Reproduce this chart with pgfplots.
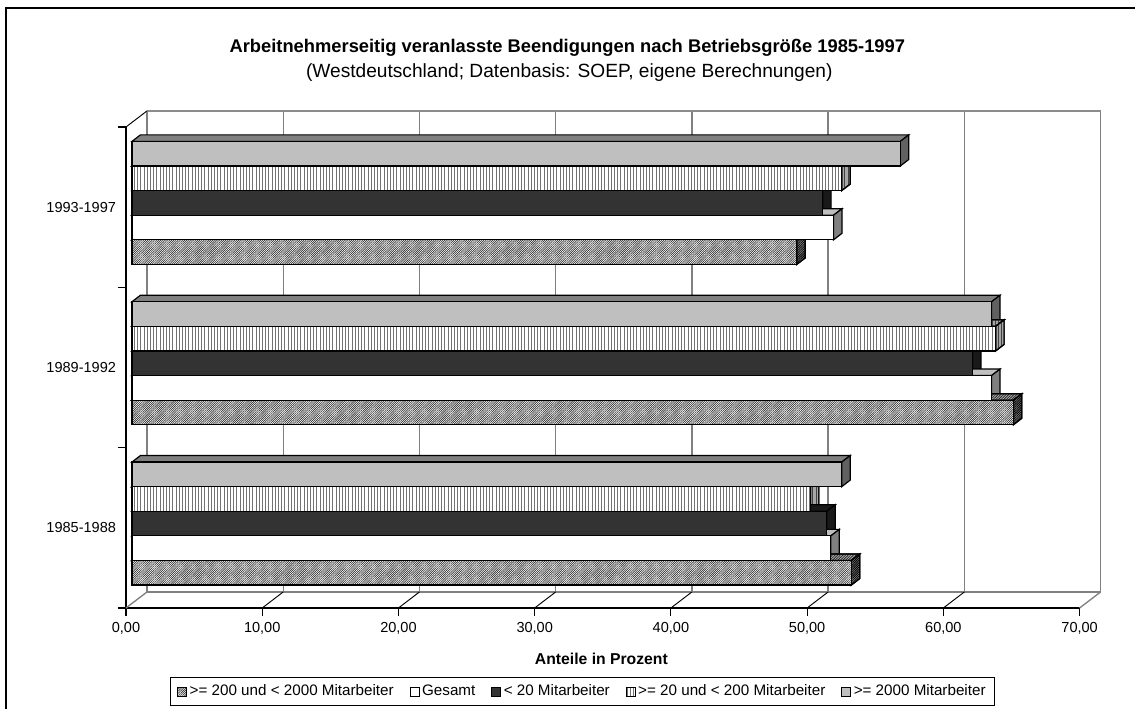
\documentclass[border=0pt]{standalone}
\usepackage{pgfplots}
\pgfplotsset{compat=1.18}
\usepackage{fontspec}
\setmainfont{Liberation Sans}
\usetikzlibrary{patterns,patterns.meta}
\definecolor{wallgray}{HTML}{808080}
\tikzset{
  diagfront/.style={fill=white,postaction={pattern={Lines[angle=45,distance=1.15pt,line width=0.5pt]},pattern color=black!80}},
  diagtop/.style={fill=black!30,postaction={pattern={Lines[angle=45,distance=1.4pt,line width=0.6pt]},pattern color=black!85}},
  diagdark/.style={fill=black!50,postaction={pattern={Lines[angle=45,distance=1.2pt,line width=0.6pt]},pattern color=black}},
  stripefront/.style={fill=white,postaction={pattern={Lines[angle=90,distance=2.4pt,line width=0.55pt]},pattern color=black!55}},
  stripedark/.style={fill=black!35,postaction={pattern={Lines[angle=90,distance=2.4pt,line width=0.7pt]},pattern color=black!75}},
}
\pgfplotsset{frontbar/.style={xbar,bar width=0.1535,xshift=4.5pt,yshift=-0.6pt,draw=black,line width=0.9pt,
  legend image code/.code={\draw[##1,line width=0.7pt] (0pt,-3.3pt) rectangle (6.6pt,3.3pt);}}}
% depth face of one bar: value, y of bar centre, top fill, side fill
\newcommand\depthbar[4]{%
  \pgfmathsetmacro\xa{#1+0.44}\pgfmathsetmacro\xb{#1+0.44+0.62}%
  \pgfmathsetmacro\xo{0.44}\pgfmathsetmacro\xp{0.44+0.62}%
  \pgfmathsetmacro\yt{#2+0.0767}\pgfmathsetmacro\yb{#2-0.0767}%
  \pgfmathsetmacro\yu{#2+0.0767+0.0405}\pgfmathsetmacro\yv{#2-0.0767+0.0405}%
  \edef\tmp{\noexpand\addplot[forget plot,yshift=-0.6pt,draw=black,line width=0.9pt,#3] coordinates {(\xo,\yt)(\xa,\yt)(\xb,\yu)(\xp,\yu)} --cycle;
    \noexpand\addplot[forget plot,yshift=-0.6pt,draw=black,line width=0.9pt,#4] coordinates {(\xa,\yt)(\xa,\yb)(\xb,\yv)(\xb,\yu)} --cycle;}\tmp}
\begin{document}
\begin{tikzpicture}[x=1pt,y=1pt]
\useasboundingbox (-94.5,-75.75) rectangle (756.75,456);
\draw[line width=1.1pt,black] (-90,-75.75) -- (-90,450) -- (756.75,450);
\begin{axis}[
  at={(0,0)},anchor=south west,
  scale only axis,width=715.2pt,height=360.75pt,
  xmin=0,xmax=70,ymin=-0.5,ymax=2.5,
  clip=false,
  axis x line*=bottom,axis y line*=left,
  axis line style={-,line width=0.8pt,black},
  xtick={0,10,...,70},ytick={-0.5,0.5,1.5,2.5},
  minor ytick={},
  extra y ticks={0,1,2},
  extra y tick style={major tick length=0pt,yticklabels={1985-1988,1989-1992,1993-1997},yticklabel style={xshift=-4pt}},
  yticklabels={},
  major tick length=6pt,tick align=outside,
  tick style={line width=0.8pt,black},
  xticklabel style={/pgf/number format/.cd,fixed,fixed zerofill,precision=2,use comma,assume math mode=true},
  ticklabel style={font=\fontsize{10.9}{12}\selectfont},
  xlabel={\textbf{Anteile in Prozent}},
  xlabel style={font=\fontsize{11.8}{13}\selectfont,at={(axis description cs:0.4985,0)},anchor=north,yshift=-30.5pt},
  xticklabel shift=1pt,
  legend style={at={(axis description cs:0.479,-0.1434)},anchor=north,legend columns=5,
    draw=black,line width=0.7pt,font=\fontsize{11.4}{13}\selectfont,
    inner xsep=5pt,inner ysep=3.5pt,
    /tikz/every even column/.append style={column sep=10pt},
    /tikz/every odd column/.append style={column sep=0pt}},
]
% back walls
\draw[wallgray,line width=1pt] (axis cs:1.54,-0.4) -- (axis cs:71.54,-0.4);
\pgfplotsinvokeforeach{0,10,...,70}{\draw[wallgray,line width=1pt] (axis cs:#1+1.54,-0.4) -- (axis cs:#1+1.54,2.6);}
\draw[black!45,line width=1pt] (axis cs:1.54,2.6) -- (axis cs:71.54,2.6);
\draw[wallgray,line width=1pt] (axis cs:0,-0.5) -- (axis cs:1.54,-0.4);
\draw[wallgray,line width=1pt] (axis cs:70,-0.5) -- (axis cs:71.54,-0.4);
\draw[black,line width=0.7pt] (axis cs:0,2.5) -- (axis cs:1.54,2.6);
\pgfplotsinvokeforeach{10,20,...,60}{\draw[black,line width=0.7pt] (axis cs:#1,-0.5) -- (axis cs:#1+1.54,-0.4);}
% depth faces, upper bars first
\depthbar{56.4}{2.3386}{fill=black!50}{fill=black!62}
\depthbar{52.1}{2.1851}{stripedark}{stripedark}
\depthbar{50.7}{2.0316}{fill=black!90}{fill=black!90}
\depthbar{51.5}{1.8781}{fill=black!25}{fill=black!50}
\depthbar{48.8}{1.7246}{diagtop}{diagdark}
\depthbar{63.1}{1.3386}{fill=black!50}{fill=black!62}
\depthbar{63.4}{1.1851}{stripedark}{stripedark}
\depthbar{61.7}{1.0316}{fill=black!90}{fill=black!90}
\depthbar{63.1}{0.8781}{fill=black!25}{fill=black!50}
\depthbar{64.7}{0.7246}{diagtop}{diagdark}
\depthbar{52.1}{0.3386}{fill=black!50}{fill=black!62}
\depthbar{49.8}{0.1851}{stripedark}{stripedark}
\depthbar{51.0}{0.0316}{fill=black!90}{fill=black!90}
\depthbar{51.3}{-0.1219}{fill=black!25}{fill=black!50}
\depthbar{52.8}{-0.2754}{diagtop}{diagdark}
% front faces
\addplot[frontbar,diagfront,bar shift=-0.2754] coordinates {(52.8,0)(64.7,1)(48.8,2)};
\addlegendentry{>= 200 und < 2000 Mitarbeiter}
\addplot[frontbar,fill=white,bar shift=-0.1219] coordinates {(51.3,0)(63.1,1)(51.5,2)};
\addlegendentry{Gesamt}
\addplot[frontbar,fill=black!80,bar shift=0.0316] coordinates {(51.0,0)(61.7,1)(50.7,2)};
\addlegendentry{< 20 Mitarbeiter}
\addplot[frontbar,stripefront,bar shift=0.1851] coordinates {(49.8,0)(63.4,1)(52.1,2)};
\addlegendentry{>= 20 und < 200 Mitarbeiter}
\addplot[frontbar,fill=black!25,bar shift=0.3386] coordinates {(52.1,0)(63.1,1)(56.4,2)};
\addlegendentry{>= 2000 Mitarbeiter}
\end{axis}
\node[font=\fontsize{13.75}{15}\selectfont\bfseries,anchor=center] at (331,419.8) {Arbeitnehmerseitig veranlasste Beendigungen nach Betriebsgröße 1985-1997};
\node[font=\fontsize{14.35}{15}\selectfont,anchor=center] at (332.5,401.8) {(Westdeutschland; Datenbasis: SOEP, eigene Berechnungen)};
\end{tikzpicture}
\end{document}
